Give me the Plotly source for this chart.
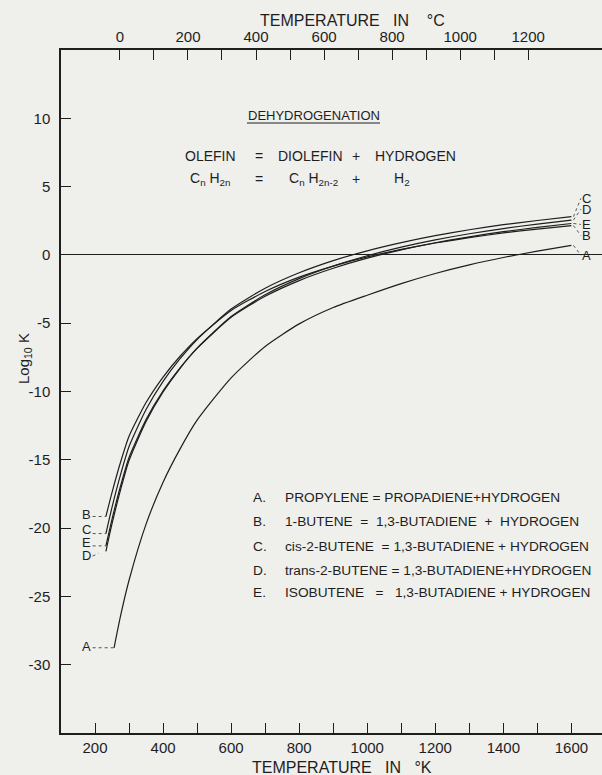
import plotly.graph_objects as go

# ---------------- data ----------------
T_BUTENES = [232, 250, 275, 300, 350, 400, 450, 500, 600, 700, 800, 900,
             1000, 1100, 1200, 1300, 1400, 1500, 1600]
LOGK_B = [-19.15, -17.38, -15.18, -13.28, -10.81, -8.94, -7.42, -6.13, -4.07, -2.68,
          -1.63, -0.82, -0.15, 0.40, 0.87, 1.26, 1.61, 1.89, 2.15]
LOGK_C = [-20.40, -18.47, -16.09, -14.03, -11.32, -9.26, -7.60, -6.19, -3.96, -2.44,
          -1.31, -0.42, 0.30, 0.90, 1.41, 1.84, 2.21, 2.52, 2.80]
LOGK_D = [-21.70, -19.68, -17.20, -15.05, -12.20, -10.04, -8.30, -6.83, -4.51, -2.92,
          -1.74, -0.81, -0.06, 0.57, 1.10, 1.55, 1.93, 2.26, 2.55]
LOGK_E = [-21.30, -19.34, -16.92, -14.83, -12.06, -9.96, -8.27, -6.84, -4.57, -3.03,
          -1.88, -0.98, -0.24, 0.37, 0.89, 1.32, 1.70, 2.01, 2.30]

T_A = [256, 275, 300, 350, 400, 450, 500, 600, 700, 800, 900, 1000, 1100, 1200,
       1300, 1400, 1500, 1600]
LOGK_A = [-28.76, -26.43, -23.82, -19.71, -16.64, -14.20, -12.10, -9.00, -6.70, -5.05,
          -3.85, -2.95, -2.10, -1.36, -0.73, -0.19, 0.28, 0.70]

CURVE_NAMES = ["A", "B", "C", "D", "E"]

X_MAJOR_K = [200, 400, 600, 800, 1000, 1200, 1400, 1600]
X_MINOR_K = [300, 500, 700, 900, 1100, 1300, 1500]
X_MAJOR_C = [0, 200, 400, 600, 800, 1000, 1200]
X_MINOR_C = [100, 300, 500, 700, 900, 1100]
Y_TICKS = [-30, -25, -20, -15, -10, -5, 0, 5, 10]
Y_TICKTEXT = ["-30", "-25", "-20", "-15", "-10", "-5", "0", "5", "10"]

NB = "\u00a0"
REACTIONS = [
    ("A.", "PROPYLENE = PROPADIENE+HYDROGEN"),
    ("B.", "1-BUTENE" + NB + " =" + NB + " 1,3-BUTADIENE" + NB + " +" + NB + " HYDROGEN"),
    ("C.", "cis-2-BUTENE" + NB + " = 1,3-BUTADIENE + HYDROGEN"),
    ("D.", "trans-2-BUTENE = 1,3-BUTADIENE+HYDROGEN"),
    ("E.", "ISOBUTENE" + NB * 3 + "=" + NB * 3 + "1,3-BUTADIENE + HYDROGEN"),
]

# ---------------- layout constants ----------------
W, H = 602, 775
ML, MR, MT, MB = 61, 0, 50, 42
PW, PH = W - ML - MR, H - MT - MB
X_RANGE = [100, 1690]
Y_RANGE = [-35, 15]
INK = "#1e1e1e"
BG = "#efefec"
FONT = "Liberation Sans, Arial, sans-serif"


def px(x):
    return (x - ML) / PW


def py(y):
    return (MT + PH - y) / PH


def text_at(x, y, txt, size, xanchor="center", angle=0):
    return dict(x=px(x), y=py(y), xref="paper", yref="paper", text=txt,
                xanchor=xanchor, yanchor="middle", textangle=angle, showarrow=False,
                font=dict(family=FONT, size=size, color=INK))


fig = go.Figure()

series = {
    "A": (T_A, LOGK_A),
    "B": (T_BUTENES, LOGK_B),
    "C": (T_BUTENES, LOGK_C),
    "D": (T_BUTENES, LOGK_D),
    "E": (T_BUTENES, LOGK_E),
}
for name in CURVE_NAMES:
    t, v = series[name]
    fig.add_trace(go.Scatter(x=t, y=v, mode="lines", name=name,
                             line=dict(color=INK, width=1.2, shape="spline", smoothing=0.6),
                             showlegend=False, hoverinfo="skip"))

# invisible trace so the Celsius axis is drawn
fig.add_trace(go.Scatter(x=[X_RANGE[0] - 273.15, X_RANGE[1] - 273.15], y=[0, 0],
                         xaxis="x2", mode="lines", line=dict(width=0),
                         opacity=0, showlegend=False, hoverinfo="skip"))

annotations = []
shapes = []

# left end labels with dotted leaders (yshift of the letter in px)
left_labels = {"B": 2, "C": 4, "E": 3, "D": -4, "A": 1}
for name, ysh in left_labels.items():
    t, v = series[name]
    annotations.append(dict(x=176, y=v[0], xref="x", yref="y", text=name,
                            xanchor="center", yanchor="middle",
                            showarrow=False, yshift=ysh,
                            font=dict(family=FONT, size=13, color=INK)))
    if name == "D":
        shapes.append(dict(type="line", xref="x", yref="y", x0=193, x1=210,
                           y0=v[0] - 0.35, y1=v[0] - 0.15,
                           line=dict(color="#555", width=1, dash="dot")))
    else:
        shapes.append(dict(type="line", xref="x", yref="y", x0=193, x1=t[0],
                           y0=v[0], y1=v[0],
                           line=dict(color="#555", width=1, dash="dot")))

# right end labels (offset of label in log units)
right_labels = {"C": 1.34, "D": 0.80, "E": -0.07, "B": -0.73, "A": -0.73}
for name, off in right_labels.items():
    t, v = series[name]
    annotations.append(dict(x=1643, y=v[-1] + off, xref="x", yref="y", text=name,
                            xanchor="center", yanchor="middle", showarrow=False,
                            font=dict(family=FONT, size=13, color=INK)))
    shapes.append(dict(type="line", xref="x", yref="y", x0=t[-1] + 6, x1=1628,
                       y0=v[-1], y1=v[-1] + off,
                       line=dict(color="#555", width=1, dash="dot")))

# axis titles
annotations.append(text_at(352, 20, "TEMPERATURE" + NB * 3 + "IN" + NB * 4 + "°C", 16))
annotations.append(text_at(342, 767, "TEMPERATURE" + NB * 3 + "IN" + NB * 3 + "°K", 16))
annotations.append(text_at(24, 359, "Log<sub>10</sub> K", 15, angle=-90))

# header text
annotations.append(text_at(313.5, 115, "DEHYDROGENATION", 13))
shapes.append(dict(type="line", xref="paper", yref="paper", x0=px(247), x1=px(380),
                   y0=py(123), y1=py(123), line=dict(color=INK, width=1)))

line1 = [("OLEFIN", 210), ("=", 259), ("DIOLEFIN", 310), ("+", 356), ("HYDROGEN", 415.5)]
line2 = [("C<sub>n</sub> H<sub>2n</sub>", 210), ("=", 259),
         ("C<sub>n</sub> H<sub>2n-2</sub>", 313), ("+", 356), ("H<sub>2</sub>", 402)]
for txt, xc in line1:
    annotations.append(text_at(xc, 156, txt, 14))
for txt, xc in line2:
    annotations.append(text_at(xc, 179, txt, 14))

# reaction legend
row_y = [497, 521, 546, 570.5, 592]
for (letter, eq), yy in zip(REACTIONS, row_y):
    annotations.append(text_at(251, yy, letter, 13.7, xanchor="left"))
    annotations.append(text_at(283, yy, eq, 13.7, xanchor="left"))

axis_common = dict(showgrid=False, showline=True, linecolor=INK, linewidth=1.5,
                   ticks="inside", ticklen=10, tickwidth=1.3, tickcolor=INK,
                   automargin=False,
                   tickfont=dict(family=FONT, size=15, color=INK))


def minor_ticks(vals):
    return dict(tickmode="array", tickvals=vals, ticks="inside", ticklen=10,
                tickwidth=1.3, tickcolor=INK, showgrid=False)


fig.update_layout(
    width=W, height=H,
    margin=dict(l=ML, r=MR, t=MT, b=MB, pad=0),
    paper_bgcolor=BG, plot_bgcolor=BG,
    showlegend=False,
    xaxis=dict(range=X_RANGE, tickmode="array", tickvals=X_MAJOR_K,
               ticktext=[str(v) for v in X_MAJOR_K], minor=minor_ticks(X_MINOR_K),
               zeroline=False, **axis_common),
    xaxis2=dict(range=[X_RANGE[0] - 273.15, X_RANGE[1] - 273.15], overlaying="x", side="top",
                tickmode="array", tickvals=X_MAJOR_C, ticktext=[str(v) for v in X_MAJOR_C],
                minor=minor_ticks(X_MINOR_C),
                zeroline=False, anchor="y", **axis_common),
    yaxis=dict(range=Y_RANGE, tickmode="array", tickvals=Y_TICKS, ticktext=Y_TICKTEXT,
               zeroline=True, zerolinecolor=INK, zerolinewidth=1.3,
               ticklabelstandoff=6, **axis_common),
    annotations=annotations,
    shapes=shapes,
)

fig.write_html("out.html", config={"displayModeBar": False},
               post_script="document.body.style.margin='0';document.body.style.background='" + BG + "';")
